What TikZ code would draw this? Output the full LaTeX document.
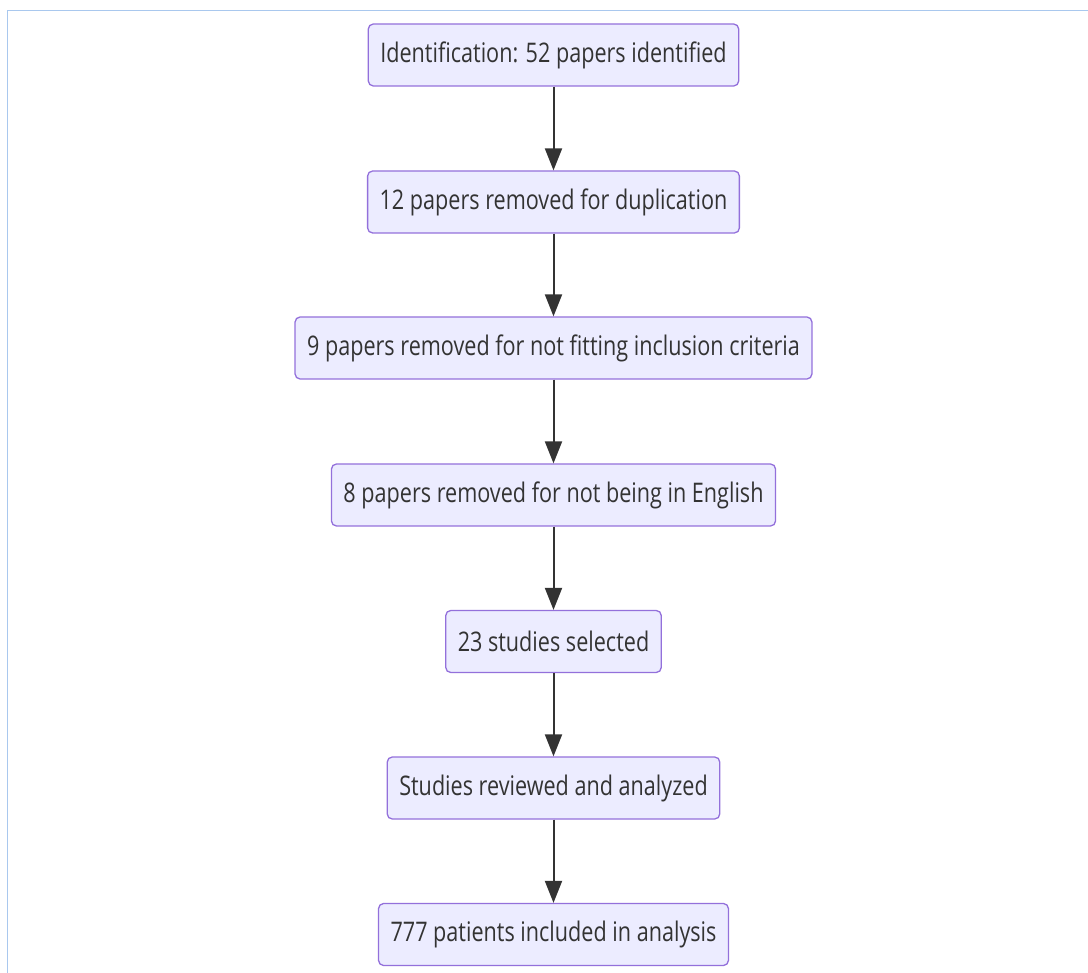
\documentclass[tikz,border=0pt]{standalone}
\usepackage{fontspec}
\setmainfont{Open Sans}[FakeStretch=0.8]
\usetikzlibrary{arrows.meta}
\definecolor{boxfill}{HTML}{ECECFF}
\definecolor{boxline}{HTML}{9370DB}
\definecolor{txt}{HTML}{333333}
\definecolor{frameblue}{HTML}{A9C8EE}
\begin{document}
\begin{tikzpicture}[x=1pt,y=-1pt,
  stepbox/.style={draw=boxline, fill=boxfill, line width=1.3pt, rounded corners=5pt,
    minimum height=62pt, inner xsep=12pt, text=txt,
    font=\fontsize{27}{32}\selectfont},
  flow/.style={draw=txt, line width=2pt, -{Triangle[width=17pt,length=22pt]}}]
\useasboundingbox (0,0) rectangle (1088,973);
\draw[frameblue, line width=1.5pt] (7.5,973) -- (7.5,10.5) -- (1088,10.5);
\node[stepbox] (b1) at (553.5,55) {Identification: 52 papers identified};
\node[stepbox] (b2) at (553.5,202) {12 papers removed for duplication};
\node[stepbox] (b3) at (553.5,348) {9 papers removed for not fitting inclusion criteria};
\node[stepbox] (b4) at (553.5,495) {8 papers removed for not being in English};
\node[stepbox] (b5) at (553.5,641.5) {23 studies selected};
\node[stepbox] (b6) at (553.5,788) {Studies reviewed and analyzed};
\node[stepbox] (b7) at (553.5,934.5) {777 patients included in analysis};
\draw[flow] (b1) -- (b2);
\draw[flow] (b2) -- (b3);
\draw[flow] (b3) -- (b4);
\draw[flow] (b4) -- (b5);
\draw[flow] (b5) -- (b6);
\draw[flow] (b6) -- (b7);
\end{tikzpicture}
\end{document}
